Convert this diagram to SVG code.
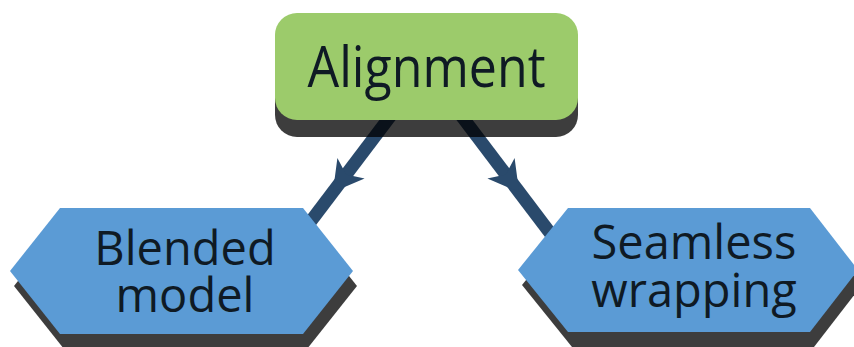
<svg xmlns="http://www.w3.org/2000/svg" width="854" height="347" viewBox="0 0 854 347">
<style>
.lbl{font-family:"Open Sans","Noto Sans",sans-serif;fill:#0f1a24;text-anchor:middle}
.shadow{fill:#000;fill-opacity:0.76}
.hex{fill:#5b9bd5}
.conn{stroke:#2a4a6c;stroke-width:13;fill:none}
.head{fill:#2a4a6c}
</style>
<rect width="854" height="347" fill="#ffffff"/>
<g id="connectors">
<line class="conn" x1="393.2" y1="112.4" x2="298.4" y2="237.6"/>
<polygon class="head" points="332.9,192.1 337.4,157.9 346.1,174.6 364.6,178.5"/>
<line class="conn" x1="458.8" y1="112.4" x2="553.6" y2="237.6"/>
<polygon class="head" points="519.1,192.1 514.6,157.9 505.9,174.6 487.4,178.5"/>
</g>
<g id="alignment">
<rect class="shadow" x="275" y="30" width="303" height="107" rx="22"/>
<rect x="275" y="13" width="303" height="107" rx="22" fill="#9ccb6b"/>
<text class="lbl" x="426.5" y="87" font-size="57" textLength="238" lengthAdjust="spacingAndGlyphs">Alignment</text>
</g>
<g id="blended">
<polygon class="shadow" points="14,286 64,223 307,223 357,286 307,349 64,349"/>
<polygon class="hex" points="10,271 60,208 303,208 353,271 303,334 60,334"/>
<text class="lbl" x="185" y="265" font-size="47">Blended</text>
<text class="lbl" x="185" y="312" font-size="47">model</text>
</g>
<g id="seamless">
<polygon class="shadow" points="522,285 572,223 814,223 862,285 814,347 572,347"/>
<polygon class="hex" points="518,270 568,208 810,208 858,270 810,332 568,332"/>
<text class="lbl" x="694" y="259" font-size="47">Seamless</text>
<text class="lbl" x="694" y="307" font-size="47">wrapping</text>
</g>
</svg>
